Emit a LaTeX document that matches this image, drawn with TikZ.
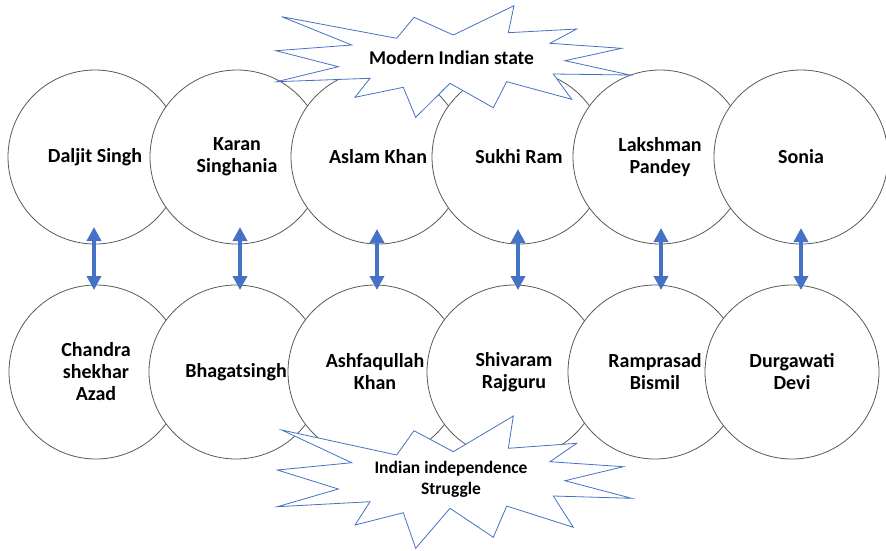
\documentclass[tikz,border=0pt]{standalone}
\usepackage{fontspec}
\setmainfont{Carlito}
\usetikzlibrary{arrows.meta}
\definecolor{accent}{HTML}{4472C4}
\definecolor{ringgrey}{HTML}{595959}
\tikzset{
  person/.style={circle, draw=ringgrey, line width=0.8pt, fill=white, minimum size=174pt, inner sep=0pt,
    align=center, font=\fontsize{20}{22}\selectfont\bfseries},
  burst/.style={draw=accent, line width=0.8pt, fill=white, line join=miter},
  bursttext/.style={align=center, inner sep=0pt},
  dblarrow/.style={draw=accent, line width=4.5pt, {Triangle[length=14pt,width=14pt]}-{Triangle[length=14pt,width=14pt]}},
}
\begin{document}
\begin{tikzpicture}[x=1pt,y=-1pt]
\useasboundingbox (0,0) rectangle (886,550);
% top row
\node[person] (t1) at (95,157) {Daljit Singh};
\node[person] (t2) at (237,157) {Karan\\Singhania};
\node[person] (t3) at (378,157) {Aslam Khan};
\node[person] (t4) at (519,157) {Sukhi Ram};
\node[person] (t5) at (660,157) {Lakshman\\Pandey};
\node[person] (t6) at (801,157) {Sonia};
% bottom row
\node[person] (b1) at (96,372) {Chandra\\shekhar\\Azad};
\node[person] (b2) at (236,372) {Bhagatsingh};
\node[person] (b3) at (375,372) {Ashfaqullah\\Khan};
\node[person] (b4) at (514,372) {Shivaram\\Rajguru};
\node[person] (b5) at (655,372) {Ramprasad\\Bismil};
\node[person] (b6) at (792,372) {Durgawati\\Devi};
% arrows
\coordinate (a1t) at (94,227);  \coordinate (a1b) at (94,290);
\coordinate (a2t) at (240,227); \coordinate (a2b) at (240,290);
\coordinate (a3t) at (377,229); \coordinate (a3b) at (377,290);
\coordinate (a4t) at (518,229); \coordinate (a4b) at (518,290);
\coordinate (a5t) at (661,228); \coordinate (a5b) at (661,290);
\coordinate (a6t) at (801,228); \coordinate (a6b) at (801,290);
\draw[dblarrow] (a1t) -- (a1b);
\draw[dblarrow] (a2t) -- (a2b);
\draw[dblarrow] (a3t) -- (a3b);
\draw[dblarrow] (a4t) -- (a4b);
\draw[dblarrow] (a5t) -- (a5b);
\draw[dblarrow] (a6t) -- (a6b);
% top starburst
\draw[burst] (281.7,16.7) -- (396.7,38.3) -- (414,17.3) -- (453.3,35) -- (514,5.7) -- (508.3,32.7)
  -- (576.7,29) -- (550,43.3) -- (621.7,48.3) -- (565,60.7) -- (630,75) -- (553.3,74)
  -- (571.7,99.3) -- (506.7,81.7) -- (493.3,107.7) -- (450,83.3) -- (415.7,117.3) -- (403.3,87.3)
  -- (355,97.3) -- (370,78.3) -- (276.7,81.7) -- (338.3,66.7) -- (276,50.7) -- (351.7,45) -- cycle;
\node[bursttext, font=\fontsize{19.5}{22}\selectfont\bfseries] (modern) at (451.5,58) {Modern Indian state};
% bottom starburst
\draw[burst] (281.7,430) -- (396.7,455) -- (414,430.7) -- (453.3,451.7) -- (513.3,416) -- (508.3,448.3)
  -- (576.7,443.3) -- (550,461.7) -- (623.3,466.7) -- (565,480.7) -- (631.7,498.3) -- (553.3,496)
  -- (573.3,527.3) -- (506.7,506) -- (493.3,537.3) -- (450,508.3) -- (415.7,548.3) -- (403.3,512.7)
  -- (355,525) -- (370,501.7) -- (277.3,506.7) -- (338.3,489) -- (277.3,470) -- (351.7,462.7) -- cycle;
\node[bursttext, font=\fontsize{17.5}{21}\selectfont\bfseries] (struggle) at (451,479.5) {Indian independence\\Struggle};
\end{tikzpicture}
\end{document}
